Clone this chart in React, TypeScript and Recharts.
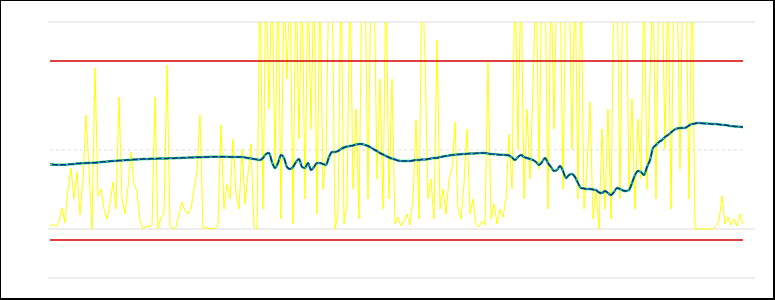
import { LineChart, Line, XAxis, YAxis, ReferenceLine } from 'recharts';

// one sample every 3px, index 0 = left end of the data
const yellowValues = [
  3, 5, 2, 8, 21, 6, 40, 61, 30, 57, 14, 50, 114, 60, 0, 161, 33, 40, 20, 10,
  25, 47, 20, 132, 30, 15, 42, 77, 45, 38, 8, 0, 3, 2, 4, 132, 0, 12, 15, 164,
  3, 0, 2, 14, 27, 18, 15, 20, 40, 57, 114, 0, 2, 0, 1, 0, 5, 104, 20, 45,
  30, 90, 35, 20, 80, 25, 55, 85, 2, 0, 260, 20, 260, 120, 260, 60, 260, 10, 260, 150,
  260, 5, 260, 90, 260, 30, 260, 100, 260, 15, 260, 40, 70, 260, 260, 0, 15, 260, 5, 25,
  260, 40, 120, 10, 260, 260, 30, 260, 260, 50, 150, 20, 260, 30, 150, 5, 12, 3, 8, 15,
  4, 30, 109, 10, 260, 171, 30, 50, 10, 189, 20, 40, 15, 50, 60, 107, 20, 10, 45, 100,
  15, 30, 5, 2, 8, 4, 167, 10, 25, 5, 20, 12, 30, 95, 40, 260, 80, 260, 30, 120,
  50, 140, 260, 60, 260, 260, 20, 260, 100, 260, 260, 40, 260, 260, 80, 260, 30, 260, 20, 60,
  127, 10, 40, 0, 100, 20, 120, 10, 260, 260, 30, 260, 260, 40, 130, 20, 110, 50, 260, 40,
  150, 260, 30, 260, 260, 80, 260, 20, 260, 260, 60, 260, 260, 30, 260, 0, 0, 0, 0, 0,
  0, 0, 3, 8, 33, 5, 12, 4, 10, 3, 15, 5,
];

const blueValues = [
  64.5, 64.4, 64.3, 64.3, 64.2, 64.2, 64.5, 64.8, 65.1, 65.4, 65.6, 65.8, 66, 66.1, 66.2, 66.3, 66.6, 66.9, 67.2, 67.5,
  67.8, 68, 68.2, 68.4, 68.6, 68.8, 69, 69.2, 69.4, 69.5, 69.7, 69.9, 70, 70.1, 70.2, 70.3, 70.4, 70.5, 70.5, 70.6,
  70.7, 70.8, 70.9, 71, 71.2, 71.3, 71.4, 71.5, 71.6, 71.7, 71.8, 71.9, 72, 72.1, 72.2, 72.2, 72.3, 72.3, 72.3, 72.2,
  72.1, 72.1, 72, 72, 72, 71.6, 71, 70.5, 70, 69.5, 69, 71, 75, 76, 67, 61, 66, 74, 71, 62,
  60, 62, 67, 70, 62, 61, 66, 59, 62, 66, 66, 65, 64, 72, 77, 77, 78, 80, 81.5, 82.5,
  83, 83.5, 84.5, 85, 85, 84, 83, 81.5, 79.5, 78, 76, 74.5, 73, 71.5, 70.5, 69.5, 68.5, 68, 68, 68,
  68, 68.5, 69, 69, 69.5, 69.5, 70, 70.5, 71, 71, 72, 72.5, 73, 73.5, 74, 74.3, 74.6, 74.8, 75, 75.2,
  75.4, 75.5, 75.7, 75.8, 76, 76, 75.5, 75, 74.8, 74.5, 74.3, 74.2, 74, 73.5, 71.5, 69, 72, 74, 72, 71,
  70, 69, 67, 64, 67, 71, 66, 62, 58, 59, 63, 58, 51, 54, 55, 52, 46, 41, 40.5, 40,
  40, 39.5, 39, 36.5, 36, 38, 36, 34, 37, 41, 40, 38.5, 38, 39, 46, 54, 58, 57, 54, 62,
  69, 81, 84, 87, 89, 92, 94, 96.5, 99, 100.5, 101, 101, 101.5, 103.5, 105, 105.5, 106, 105.8, 105.6, 105.4,
  105.2, 105, 105, 104.6, 104.2, 104, 103.5, 103, 102.7, 102.4, 102.2, 102,
];

const gridLevels = [207, 0, -49];
const dashedLevel = 79;
const redLevels = [168, -11];

const data = yellowValues.map((y, i) => ({ i, yellow: y, blue: blueValues[i] }));
const lastIndex = yellowValues.length - 1;

export default function App() {
  return (
    <div
      style={{
        position: 'relative',
        width: 775,
        height: 300,
        boxSizing: 'border-box',
        borderTop: '1px solid #000',
        borderLeft: '1px solid #000',
        borderRight: '2px solid #000',
        borderBottom: '2px solid #000',
        background: '#fff',
        overflow: 'hidden',
      }}
    >
      <style>{'body{margin:0}'}</style>
      <div style={{ position: 'absolute', left: -1, top: -1 }}>
        <LineChart width={775} height={300} data={data} margin={{ top: 22, right: 20, bottom: 22, left: 48 }}>
          <XAxis dataKey="i" type="number" domain={[-0.667, 235]} hide allowDataOverflow />
          <YAxis type="number" domain={[-49, 207]} hide allowDataOverflow />
          {gridLevels.map((v) => (
            <ReferenceLine key={v} y={v} stroke="#dcdcdc" strokeWidth={1} />
          ))}
          <ReferenceLine
            segment={[{ x: 0, y: dashedLevel }, { x: lastIndex, y: dashedLevel }]}
            stroke="#dcdcdc"
            strokeDasharray="3 3"
          />
          <Line dataKey="yellow" stroke="#ffff00" strokeWidth={1} dot={false} type="linear" isAnimationActive={false} />
          {redLevels.map((v) => (
            <ReferenceLine
              key={v}
              segment={[{ x: 0, y: v }, { x: lastIndex, y: v }]}
              stroke="#d00000"
              strokeWidth={1.5}
            />
          ))}
          <Line dataKey="blue" stroke="#2bd46a" strokeWidth={2.5} dot={false} type="monotone" isAnimationActive={false} />
          <Line dataKey="blue" stroke="#0b2a8c" strokeWidth={1.5} dot={false} type="monotone" isAnimationActive={false} />
          <Line
            dataKey="blue"
            stroke="#36e0e0"
            strokeWidth={1}
            strokeDasharray="2 6"
            dot={false}
            type="monotone"
            isAnimationActive={false}
          />
        </LineChart>
      </div>
    </div>
  );
}
